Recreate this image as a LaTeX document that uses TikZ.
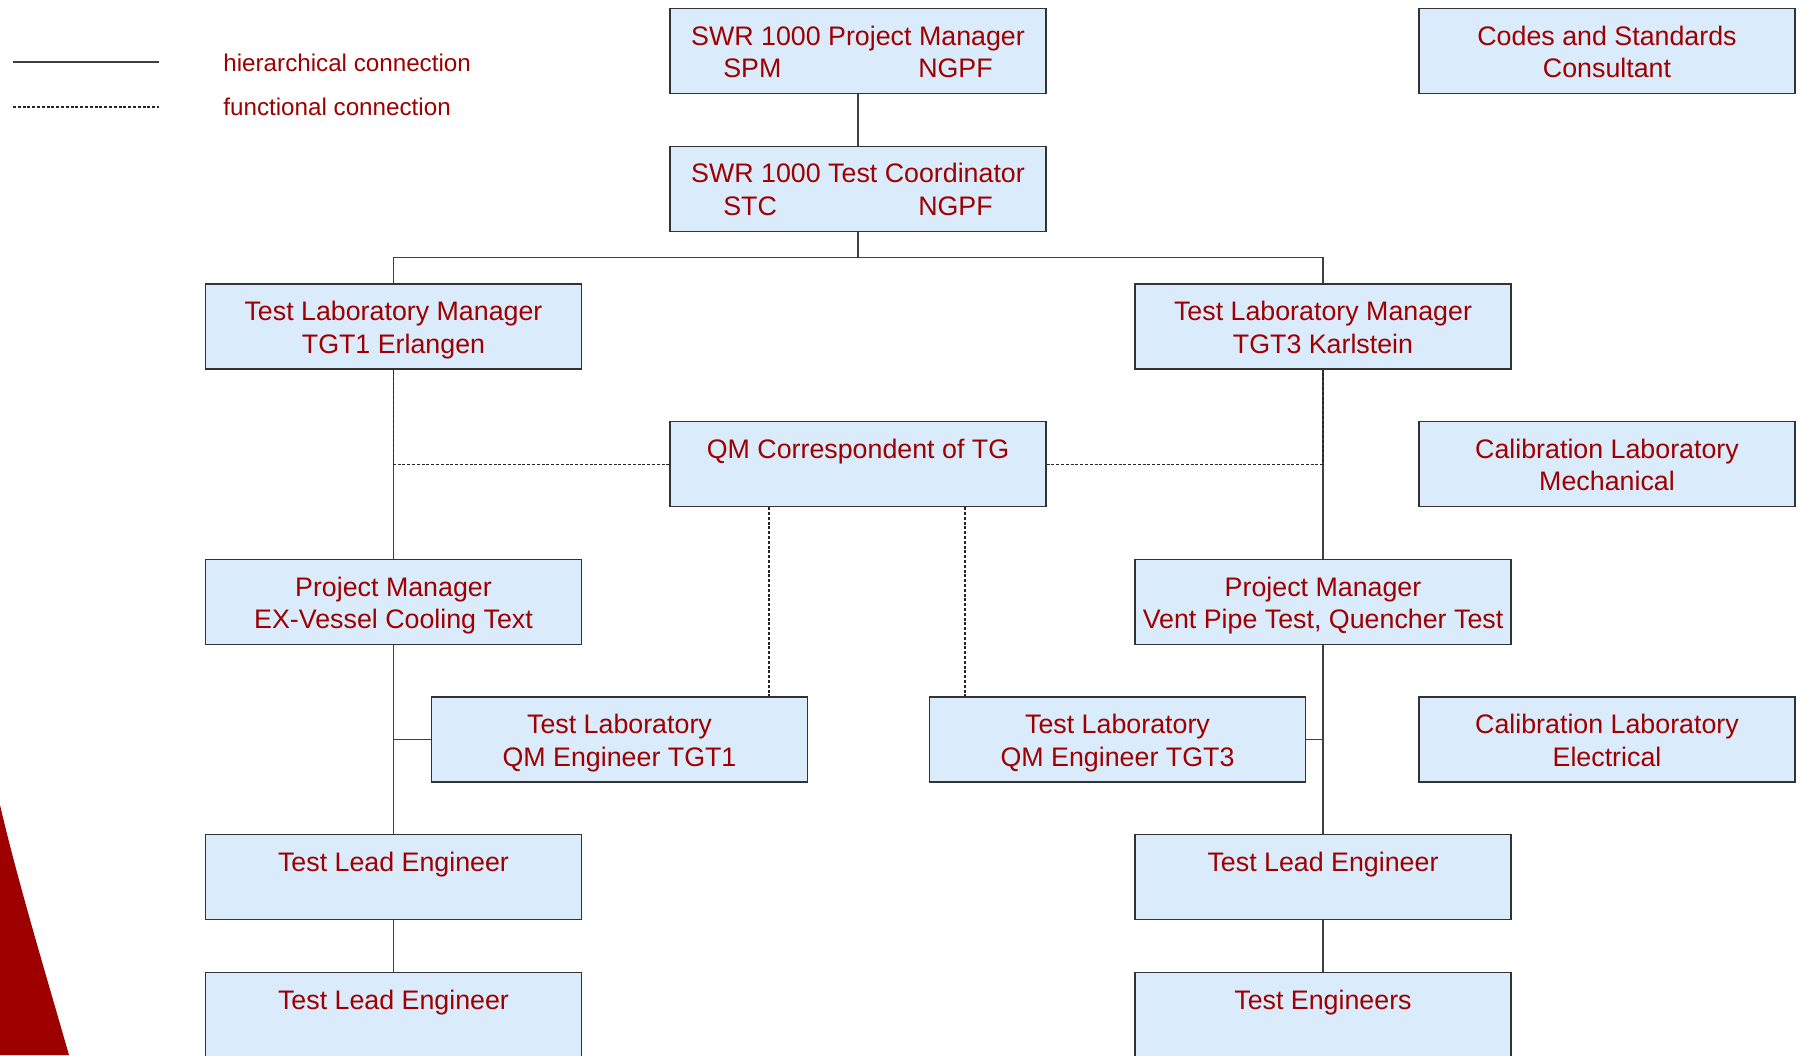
\documentclass[tikz,border=0pt]{standalone}
\usepackage{fontspec}
\setmainfont{Liberation Sans}

\definecolor{boxblue}{RGB}{218,236,252}
\definecolor{slidered}{RGB}{158,0,0}

\tikzset{
    orgbox/.style={draw=black!80, line width=0.65pt, fill=boxblue, text=slidered,
        font=\fontsize{13.4}{16.3}\selectfont, align=center,
        minimum width=188pt, minimum height=42.5pt, inner xsep=1pt, inner ysep=0pt,
        text height=34.65pt, text depth=7.85pt},
    onelinebox/.style={orgbox, text height=18.35pt, text depth=24.15pt},
    hline/.style={draw=black!75, line width=0.55pt},
    fline/.style={draw=black!85, line width=0.55pt, dash pattern=on 1.5pt off 0.9pt},
    legendtext/.style={text=slidered, font=\fontsize{12.1}{14}\selectfont,
        anchor=base west, inner sep=0pt}
}

\begin{document}
\begin{tikzpicture}[x=0.5pt, y=-0.5pt]

    \fill[white] (0,0) rectangle (1803,1055);
    \useasboundingbox (0,0) rectangle (1803,1055);

    % red corner of the slide
    \fill[slidered] (0,805) .. controls (18,882) and (44,968) .. (69,1055) -- (0,1055) -- cycle;

    % legend
    \coordinate (hleft) at (13,62);
    \coordinate (hright) at (159,62);
    \coordinate (fleft) at (13,107);
    \coordinate (fright) at (159,107);
    \draw[hline] (hleft) -- (hright);
    \draw[fline] (fleft) -- (fright);
    \node[legendtext] (hlabel) at (223,71.7) {hierarchical connection};
    \node[legendtext] (flabel) at (223,115) {functional connection};

    % these are the boxes
    \node[orgbox] (spm) at (858,51) {SWR 1000 Project Manager\\\makebox[97.5pt][l]{SPM}NGPF};
    \node[orgbox] (codes) at (1607,51) {Codes and Standards\\Consultant};
    \node[orgbox] (stc) at (858,188.7) {SWR 1000 Test Coordinator\\\makebox[97.5pt][l]{STC}NGPF};
    \node[orgbox] (tlm1) at (393.5,326.4) {Test Laboratory Manager\\TGT1 Erlangen};
    \node[orgbox] (tlm3) at (1323,326.4) {Test Laboratory Manager\\TGT3 Karlstein};
    \node[onelinebox] (qmc) at (858,464.1) {QM Correspondent of TG};
    \node[orgbox] (calmech) at (1607,464.1) {Calibration Laboratory\\Mechanical};
    \node[orgbox] (pm1) at (393.5,601.8) {Project Manager\\EX-Vessel Cooling Text};
    \node[orgbox] (pm3) at (1323,601.8) {Project Manager\\Vent Pipe Test, Quencher Test};
    \node[orgbox] (qm1) at (619.5,739.5) {Test Laboratory\\QM Engineer TGT1};
    \node[orgbox] (qm3) at (1117.5,739.5) {Test Laboratory\\QM Engineer TGT3};
    \node[orgbox] (calel) at (1607,739.5) {Calibration Laboratory\\Electrical};
    \node[onelinebox] (tle1) at (393.5,877.2) {Test Lead Engineer};
    \node[onelinebox] (tle3) at (1323,877.2) {Test Lead Engineer};
    \node[onelinebox] (tle1b) at (393.5,1014.9) {Test Lead Engineer};
    \node[onelinebox] (teng) at (1323,1014.9) {Test Engineers};

    % hierarchical connections
    \coordinate (split) at (858,257.7);
    \draw[hline] (spm) -- (stc);
    \draw[hline] (stc) -- (split);
    \draw[hline] (tlm1.north) |- (split) -| (tlm3.north);
    \draw[hline] (tlm1) -- (pm1);
    \draw[hline] (tlm3) -- (pm3);
    \draw[hline] (pm1) -- (tle1);
    \draw[hline] (pm3) -- (tle3);
    \draw[hline] (pm1.south |- qm1.west) -- (qm1.west);
    \draw[hline] (pm3.south |- qm3.east) -- (qm3.east);
    \draw[hline] (tle1) -- (tle1b);
    \draw[hline] (tle3) -- (teng);

    % functional connections
    \draw[fline] (qmc.west) -| (tlm1.south);
    \draw[fline] (qmc.east) -| (tlm3.south);
    \draw[fline] ([xshift=-44.5pt]qmc.south) -- ([xshift=-44.5pt]qmc.south |- qm1.north);
    \draw[fline] ([xshift=53.5pt]qmc.south) -- ([xshift=53.5pt]qmc.south |- qm3.north);

\end{tikzpicture}
\end{document}
